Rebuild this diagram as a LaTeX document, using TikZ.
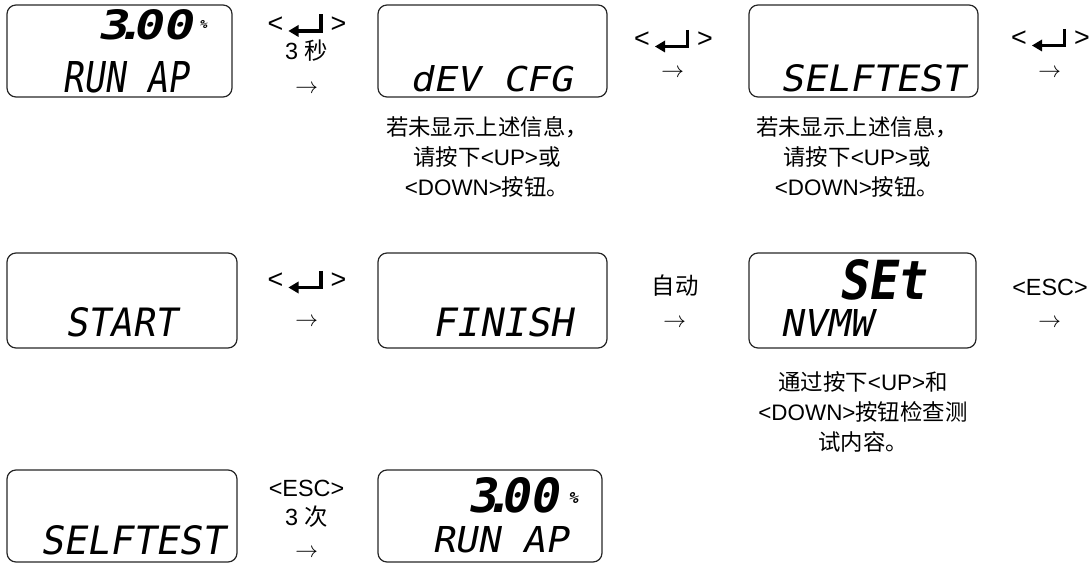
\documentclass[tikz,border=0pt]{standalone}
\usepackage{fontspec}
\usepackage{graphicx}
\setmainfont{Liberation Sans}
\newfontfamily\cjk{Noto Sans CJK SC}
\newfontfamily\lcdfont[FakeSlant=0.18]{DejaVu Sans Mono}
\newfontfamily\arrfont{latinmodern-math.otf}
\newcommand\lcdtxt[3]{\resizebox{#1bp}{#2bp}{\lcdfont #3}}
\newcommand\lcdbig[3]{\resizebox{#1bp}{#2bp}{\lcdfont\bfseries #3}}
\begin{document}
\begin{tikzpicture}[x=1bp,y=-1bp,
  screen/.style={draw=black!85, line width=1.2bp, rounded corners=9bp, inner sep=0},
  lcd/.style={inner sep=0, outer sep=0, anchor=south west},
  lbl/.style={inner sep=0, font=\fontsize{23.5}{26}\selectfont},
  angle/.style={inner sep=0, font=\fontsize{27}{30}\selectfont},
  arr/.style={inner sep=0, font=\arrfont\fontsize{23}{26}\selectfont},
  note/.style={inner sep=0, align=center, font=\fontsize{22.5}{30}\selectfont},
  enterkey/.pic={
    \node[angle] (-lt) at (-31,0) {<};
    \node[angle] (-gt) at (32,0) {>};
    \draw[line width=3.5bp] (14.5,-10) -- (14.5,6.5) -- (-9,6.5);
    \fill (-18,6.5) -- (-8,0.5) -- (-8,12.5) -- cycle;
  }
]
\useasboundingbox (0,0) rectangle (1089,564);

% screens
\node[screen, minimum width=225bp, minimum height=92bp] (s1) at (119.5,51) {};
\node[screen, minimum width=229bp, minimum height=92bp] (s2) at (492.5,51) {};
\node[screen, minimum width=229bp, minimum height=92bp] (s3) at (863.5,51) {};
\node[screen, minimum width=230bp, minimum height=95bp] (s4) at (122,300.5) {};
\node[screen, minimum width=229bp, minimum height=95bp] (s5) at (492.5,300.5) {};
\node[screen, minimum width=227bp, minimum height=95bp] (s6) at (862.5,300.5) {};
\node[screen, minimum width=230bp, minimum height=92bp] (s7) at (122,516) {};
\node[screen, minimum width=224bp, minimum height=92bp] (s8) at (490,516) {};

% screen texts
\node[lcd] (d1a) at (97,40) {\lcdbig{95}{30}{3\kern-0.25em.\kern-0.25em00}};
\node[lcd] (d1b) at (199,29) {\lcdbig{8}{8}{\%}};
\node[lcd] (d1c) at (62,93) {\lcdtxt{126}{31}{RUN AP}};
\node[lcd] (d2) at (410,92) {\lcdtxt{162}{26}{dEV CFG}};
\node[lcd] (d3) at (780,92) {\lcdtxt{185}{27}{SELFTEST}};
\node[lcd] (d4) at (65,337) {\lcdtxt{112}{29}{START}};
\node[lcd] (d5) at (432,337) {\lcdtxt{141}{29}{FINISH}};
\node[lcd] (d6a) at (838,300) {\lcdbig{88}{40}{SEt}};
\node[lcd] (d6b) at (780,337) {\lcdtxt{92}{27}{NVMW}};
\node[lcd] (d7) at (40,555) {\lcdtxt{185}{29}{SELFTEST}};
\node[lcd] (d8a) at (467,513) {\lcdbig{92}{35}{3\kern-0.25em.\kern-0.25em00}};
\node[lcd] (d8b) at (568,503) {\lcdbig{10}{11}{\%}};
\node[lcd] (d8c) at (432,553) {\lcdtxt{136}{26}{RUN AP}};

% transition labels
\pic (k1) at (306.5,24.5) {enterkey};
\node[lbl] (t1) at (306.5,51) {3 {\cjk 秒}};
\node[arr] (a1) at (306.5,88) {→};

\pic (k2) at (673,40) {enterkey};
\node[arr] (a2) at (673,72) {→};

\pic (k3) at (1050,39) {enterkey};
\node[arr] (a3) at (1050,72) {→};

\pic (k4) at (306.5,281) {enterkey};
\node[arr] (a4) at (306.5,321) {→};

\node[lbl] (t5) at (675,286) {\cjk 自动};
\node[arr] (a5) at (675,322) {→};

\node[lbl] (t6) at (1050,287) {<ESC>};
\node[arr] (a6) at (1050,322) {→};

\node[lbl] (t7) at (306.5,488) {<ESC>};
\node[lbl] (t8) at (306.5,517) {3 {\cjk 次}};
\node[arr] (a7) at (306.5,552) {→};

% notes
\node[note] (n2) at (487,157) {{\cjk 若未显示上述信息，}\\{\cjk 请按下}<UP>{\cjk 或}\\<DOWN>{\cjk 按钮。}};
\node[note] (n3) at (857,157) {{\cjk 若未显示上述信息，}\\{\cjk 请按下}<UP>{\cjk 或}\\<DOWN>{\cjk 按钮。}};
\node[note] (n6) at (863,412) {{\cjk 通过按下}<UP>{\cjk 和}\\<DOWN>{\cjk 按钮检查测}\\{\cjk 试内容。}};
\end{tikzpicture}
\end{document}
